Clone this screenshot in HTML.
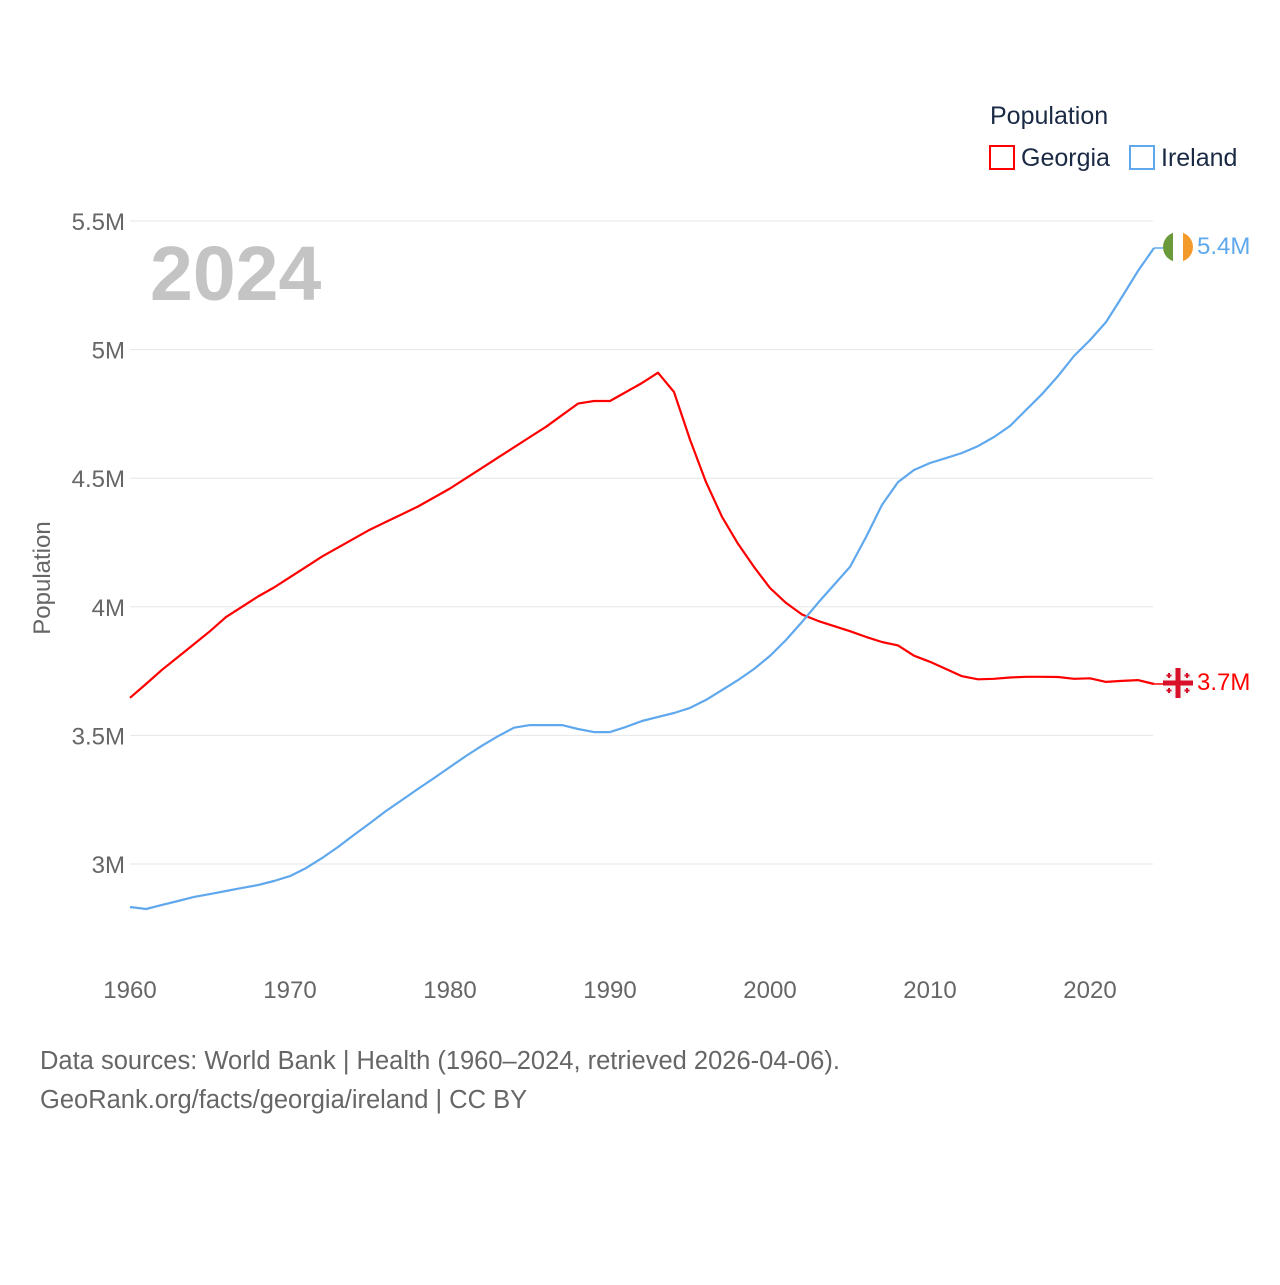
<!DOCTYPE html>
<html><head><meta charset="utf-8"><style>
html,body{margin:0;padding:0;background:#fff;}
body{width:1280px;height:1280px;overflow:hidden;font-family:"Liberation Sans",sans-serif;}
</style></head><body>
<svg id="chart" width="1280" height="1280" xmlns="http://www.w3.org/2000/svg" font-family="Liberation Sans, sans-serif">
<g id="grid"></g>
<g id="yticks"></g>
<g id="xticks"></g>
<text x="50" y="578" transform="rotate(-90 50 578)" text-anchor="middle" font-size="24" fill="#666">Population</text>
<text x="150" y="300" font-size="77" font-weight="bold" fill="#c4c4c4">2024</text>
<g>
<text x="990" y="124" font-size="25" fill="#1a2a44">Population</text>
<rect x="990" y="146" width="24" height="23" fill="none" stroke="#f00" stroke-width="2"/>
<text x="1021" y="166" font-size="25" fill="#1a2a44">Georgia</text>
<rect x="1130" y="146" width="24" height="23" fill="none" stroke="#5fa8ee" stroke-width="2"/>
<text x="1161" y="166" font-size="25" fill="#1a2a44">Ireland</text>
</g>
<g id="series"></g>
<g>
<clipPath id="ic"><circle cx="1178" cy="247" r="15"/></clipPath>
<g clip-path="url(#ic)"><rect x="1163" y="232" width="10" height="30" fill="#6a9a3a"/><rect x="1173" y="232" width="10" height="30" fill="#fff"/><rect x="1183" y="232" width="10" height="30" fill="#f39a2b"/></g>
</g>
<g>
<circle cx="1178" cy="683" r="15" fill="#f4f4f4"/>
<rect x="1175.5" y="668" width="5" height="30" fill="#d8102a"/><rect x="1163" y="680.5" width="30" height="5" fill="#d8102a"/>
<g fill="#d8102a"><rect x="1168" y="673" width="2" height="5"/><rect x="1166.5" y="674.5" width="5" height="2"/><rect x="1186" y="673" width="2" height="5"/><rect x="1184.5" y="674.5" width="5" height="2"/><rect x="1168" y="688" width="2" height="5"/><rect x="1166.5" y="689.5" width="5" height="2"/><rect x="1186" y="688" width="2" height="5"/><rect x="1184.5" y="689.5" width="5" height="2"/></g>
</g>
<text x="1197" y="254" font-size="24" fill="#5fa8ee">5.4M</text>
<text x="1197" y="690" font-size="24" fill="#f00">3.7M</text>
<text x="40" y="1069" font-size="25.5" fill="#666">Data sources: World Bank | Health (1960–2024, retrieved 2026-04-06).</text>
<text x="40" y="1108" font-size="25.5" fill="#666">GeoRank.org/facts/georgia/ireland | CC BY</text>
</svg>
<script>
const years = [];
for (let y = 1960; y <= 2024; y++) years.push(y);
const georgia = [3.646,3.70,3.755,3.805,3.855,3.905,3.96,4.0,4.04,4.075,4.115,4.155,4.195,4.23,4.265,4.30,4.33,4.36,4.39,4.425,4.46,4.50,4.54,4.58,4.62,4.66,4.70,4.745,4.79,4.80,4.80,4.835,4.87,4.91,4.835,4.65,4.485,4.35,4.245,4.155,4.073,4.015,3.97,3.945,3.925,3.905,3.883,3.863,3.85,3.81,3.786,3.758,3.73,3.718,3.72,3.725,3.728,3.728,3.727,3.72,3.722,3.708,3.712,3.715,3.70];
const ireland = [2.833,2.825,2.841,2.856,2.872,2.883,2.895,2.907,2.918,2.934,2.953,2.984,3.023,3.066,3.113,3.159,3.206,3.249,3.292,3.334,3.377,3.42,3.46,3.497,3.53,3.54,3.54,3.54,3.525,3.513,3.513,3.533,3.556,3.572,3.587,3.607,3.638,3.676,3.715,3.758,3.809,3.871,3.941,4.015,4.085,4.155,4.271,4.396,4.485,4.532,4.559,4.578,4.598,4.625,4.66,4.703,4.765,4.827,4.897,4.975,5.037,5.107,5.205,5.306,5.395];
const yTicks = [3,3.5,4,4.5,5,5.5];
const yTickLabels = ["3M","3.5M","4M","4.5M","5M","5.5M"];
const xTicks = [1960,1970,1980,1990,2000,2010,2020];

const NS = "http://www.w3.org/2000/svg";
const xs = y => 130 + (y - 1960) * 16;
const ys = v => 864 - (v - 3) * 257.2;
function mk(tag, attrs, parent){const e=document.createElementNS(NS,tag);for(const k in attrs)e.setAttribute(k,attrs[k]);parent.appendChild(e);return e;}

const grid=document.getElementById('grid'), yt=document.getElementById('yticks'), xt=document.getElementById('xticks');
yTicks.forEach((v,i)=>{
  const l=mk('line',{x1:130,x2:1153,y1:ys(v),y2:ys(v),stroke:'#e6e6e6','stroke-width':1},grid);
  
  
  const t=mk('text',{x:125,y:ys(v)+9,'text-anchor':'end','font-size':24,fill:'#666'},yt);
  t.textContent=yTickLabels[i];
  
  
});
xTicks.forEach(y=>{
  const t=mk('text',{x:xs(y),y:998,'text-anchor':'middle','font-size':24,fill:'#666'},xt);
  t.textContent=y;
  
  
});
const ser=document.getElementById('series');
function line(vals,color,name){
  const d=vals.map((v,i)=>(i?'L':'M')+xs(years[i]).toFixed(1)+','+ys(v).toFixed(1)).join(' ');
  const p=mk('path',{d:d,fill:'none',stroke:color,'stroke-width':2.2,'stroke-linejoin':'round'},ser);
  
  
  const last=vals[vals.length-1];
  const c=mk('line',{x1:xs(years[years.length-1]),x2:1163,y1:ys(last),y2:ys(last),stroke:color,'stroke-width':1.5},ser);
  
  
}
line(georgia,'#ff0000','georgia-line');
line(ireland,'#5fa8ee','ireland-line');
</script>
</body></html>
